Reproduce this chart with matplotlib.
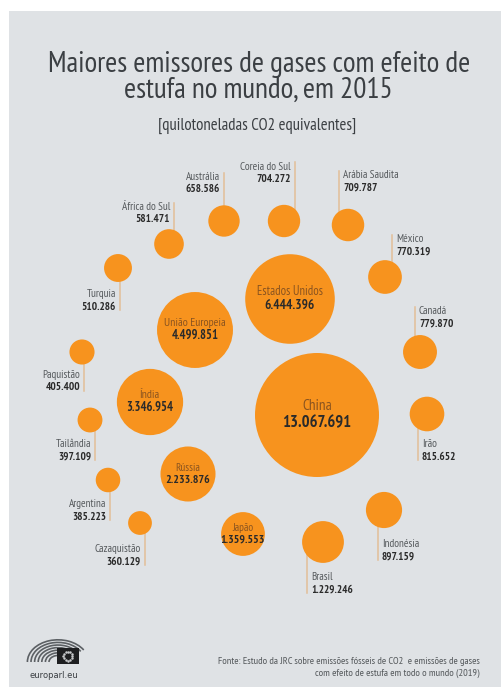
import numpy as np
import matplotlib
matplotlib.use('Agg')
import matplotlib.pyplot as plt
from matplotlib.patches import Circle, Rectangle, Arc

plt.rcParams['font.family'] = ['PT Sans Narrow', 'Roboto Condensed', 'DejaVu Sans']

# emissões em quilotoneladas de CO2 equivalente (2015)
countries = [
    "China", "Estados Unidos", "União Europeia", "Índia", "Rússia", "Japão",
    "Brasil", "Indonésia", "Irão", "Canadá", "México", "Arábia Saudita",
    "Coreia do Sul", "Austrália", "África do Sul", "Turquia", "Paquistão",
    "Tailândia", "Argentina", "Cazaquistão",
]
values = [
    13067691, 6444396, 4499851, 3346954, 2233876, 1359553,
    1229246, 897159, 815652, 779870, 770319, 709787,
    704272, 658586, 581471, 510286, 405400,
    397109, 385223, 360129,
]

# centro de cada bolha (px)
centers = {
    "China": (317, 415), "Estados Unidos": (290, 299), "União Europeia": (195, 330),
    "Índia": (150, 402), "Rússia": (188, 474), "Japão": (243, 534),
    "Brasil": (323, 542), "Indonésia": (384, 510), "Irão": (427, 414),
    "Canadá": (420, 352), "México": (385, 277), "Arábia Saudita": (348, 225),
    "Coreia do Sul": (284, 221), "Austrália": (224, 221), "África do Sul": (169, 244),
    "Turquia": (118, 268), "Paquistão": (82, 352), "Tailândia": (90, 420),
    "Argentina": (108, 480), "Cazaquistão": (140, 523),
}

# rótulos dentro da bolha: (tamanho nome, tamanho valor)
inside = {
    "China": (11, 12), "Estados Unidos": (9, 9.5), "União Europeia": (8.5, 9),
    "Índia": (8.5, 9), "Rússia": (8, 8.5), "Japão": (8, 8.5),
}

# rótulos exteriores: x da linha, y do fim da linha, sentido, alinhamento
outside = {
    "Austrália": (224, 173, "up", "right"),
    "Coreia do Sul": (295, 162, "up", "right"),
    "Arábia Saudita": (339, 171, "up", "left"),
    "África do Sul": (174, 203, "up", "right"),
    "México": (392, 235, "up", "left"),
    "Canadá": (415, 307, "up", "left"),
    "Turquia": (120, 310, "down", "right"),
    "Paquistão": (84, 391, "down", "right"),
    "Tailândia": (95, 460, "down", "right"),
    "Argentina": (110, 520, "down", "right"),
    "Cazaquistão": (145, 565, "down", "right"),
    "Irão": (418, 460, "down", "left"),
    "Brasil": (307, 593, "down", "left"),
    "Indonésia": (378, 560, "down", "left"),
}

ORANGE = '#F7931E'
BG = '#DFE2E5'
TITLE_COLOR = '#3B3F43'
NAME_COLOR = '#55595C'
VALUE_COLOR = '#2A2A2A'
INNER_NAME = '#8A5420'
LINE_COLOR = '#E2BE98'
R_MAX = 62


def fmt(v):
    return f"{v:,}".replace(",", ".")


fig = plt.figure(figsize=(5.02, 6.93), dpi=100)
fig.patch.set_facecolor('white')
ax = fig.add_axes([0, 0, 1, 1])
ax.set_xlim(0, 502)
ax.set_ylim(693, 0)
ax.axis('off')

ax.add_patch(Rectangle((9, 11), 493, 676, facecolor=BG, edgecolor='none', zorder=0))

ax.text(259, 64, "Maiores emissores de gases com efeito de", ha='center', va='center',
        fontsize=21, color=TITLE_COLOR)
ax.text(258, 90, "estufa no mundo, em 2015", ha='center', va='center',
        fontsize=21, color=TITLE_COLOR)
ax.text(257, 126, "[quilotoneladas CO2 equivalentes]", ha='center', va='center',
        fontsize=12, color=TITLE_COLOR)

vmax = max(values)
for name, v in zip(countries, values):
    cx, cy = centers[name]
    r = R_MAX * (v / vmax) ** 0.46
    ax.add_patch(Circle((cx, cy), r, facecolor=ORANGE, edgecolor='none', zorder=3))

    if name in inside:
        fs_n, fs_v = inside[name]
        ax.text(cx, cy - fs_n * 0.8, name, ha='center', va='center', fontsize=fs_n,
                color=INNER_NAME, zorder=4)
        ax.text(cx, cy + fs_v * 0.65, fmt(v), ha='center', va='center', fontsize=fs_v,
                color=VALUE_COLOR, fontweight='bold', zorder=4)
    else:
        lx, ly, direction, ha = outside[name]
        ax.plot([lx, lx], [cy, ly], color=LINE_COLOR, lw=1.1, zorder=2)
        tx = lx - 4 if ha == 'right' else lx + 4
        if direction == 'up':
            ny, vy = ly + 4.5, ly + 16.5
        else:
            ny, vy = ly - 16, ly - 3.5
        ax.text(tx, ny, name, ha=ha, va='center', fontsize=8, color=NAME_COLOR, zorder=4)
        ax.text(tx, vy, fmt(v), ha=ha, va='center', fontsize=8, color=VALUE_COLOR,
                fontweight='bold', zorder=4)

# logotipo: hemiciclo e bandeira
for rr in np.arange(9, 32, 3.6):
    ax.add_patch(Arc((58, 662), 2 * rr, 1.45 * rr, theta1=180, theta2=335,
                     color='#5C6064', lw=1.2, zorder=2))
ax.add_patch(Rectangle((57, 648), 22, 16, facecolor='#1E1F21', edgecolor='none', zorder=3))
ang = np.linspace(0, 2 * np.pi, 12, endpoint=False)
ax.scatter(68 + 4.5 * np.cos(ang), 656 + 4.5 * np.sin(ang), s=0.6, color='#C9CBCD', zorder=4)
ax.text(54, 676, "europarl.eu", ha='center', va='center', fontsize=6, color=TITLE_COLOR,
        family='DejaVu Sans')

ax.text(480, 662, "Fonte: Estudo da JRC sobre emissões fósseis de CO2  e emissões de gases",
        ha='right', va='center', fontsize=7.5, color=NAME_COLOR)
ax.text(480, 673, "com efeito de estufa em todo o mundo (2019)",
        ha='right', va='center', fontsize=7.5, color=NAME_COLOR)

fig.savefig('out.png', dpi=100, facecolor=fig.get_facecolor())
